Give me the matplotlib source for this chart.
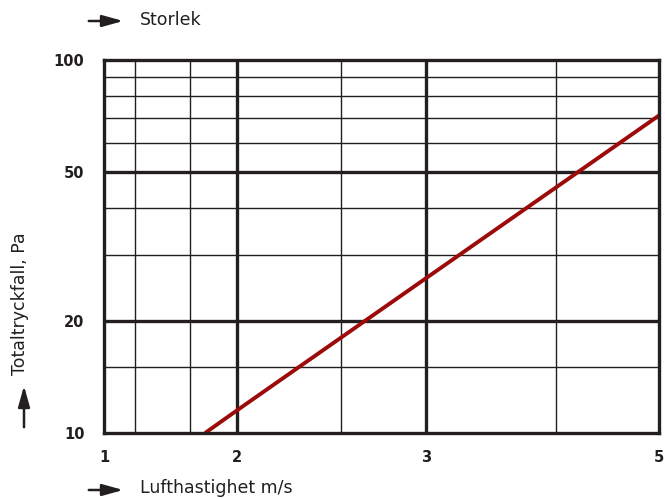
import numpy as np
import matplotlib
matplotlib.use("Agg")
import matplotlib.pyplot as plt

# x-axeln är ett nomogram: 1, 2, 3, 5 på ojämna avstånd
X_TICKS = [1, 2, 3, 5]
X_POS = [0, 133, 322, 555]          # relativa positioner längs axeln
X_MINOR = [1.23, 1.65, 2.55, 4.12]
Y_TICKS = [10, 20, 50, 100]
Y_MINOR = [15, 30, 40, 60, 70, 80, 90]

# tryckfallskurva
vel = [1.76, 2, 3, 5]
tryck = [10, 11.5, 26, 71]

INK = "#231f20"
RED = "#9c0a0a"


def fwd(x):
    return np.interp(x, X_TICKS, X_POS)


def inv(p):
    return np.interp(p, X_POS, X_TICKS)


fig = plt.figure(figsize=(6.65, 4.99), dpi=100)
ax = fig.add_axes([104 / 665, 1 - 433 / 499, 555 / 665, 373 / 499])
ax.set_xscale("function", functions=(fwd, inv))
ax.set_yscale("log")
ax.set_xlim(1, 5)
ax.set_ylim(10, 100)

for x in X_MINOR:
    ax.axvline(x, color=INK, lw=1.0, zorder=1)
for y in Y_MINOR:
    ax.axhline(y, color=INK, lw=1.0, zorder=1)
for x in X_TICKS[1:-1]:
    ax.axvline(x, color=INK, lw=2.4, zorder=1)
for y in Y_TICKS[1:-1]:
    ax.axhline(y, color=INK, lw=2.4, zorder=1)

ax.plot(vel, tryck, color=RED, lw=2.8, zorder=3, solid_capstyle="butt")

for s in ax.spines.values():
    s.set_linewidth(2.4)
    s.set_color(INK)
    s.set_zorder(4)

ax.set_xticks(X_TICKS)
ax.set_xticklabels([str(v) for v in X_TICKS])
ax.set_yticks(Y_TICKS)
ax.set_yticklabels([str(v) for v in Y_TICKS])
ax.minorticks_off()
ax.set_xticks([], minor=True)
ax.set_yticks([], minor=True)
ax.tick_params(length=0, labelsize=10.5, colors=INK)
ax.tick_params(axis="x", pad=12)
ax.tick_params(axis="y", pad=14)
for t in ax.get_xticklabels() + ax.get_yticklabels():
    t.set_fontweight("heavy")

# pilar och axeltexter
arrow = dict(arrowstyle="-|>,head_length=0.9,head_width=0.25", color=INK,
             lw=1.8, mutation_scale=14)
fig.add_artist(matplotlib.patches.FancyArrowPatch(
    (86 / 665, 1 - 21 / 499), (126 / 665, 1 - 21 / 499),
    transform=fig.transFigure, **arrow))
fig.text(140 / 665, 1 - 20 / 499, "Storlek", fontsize=12.5, color=INK,
         va="center", ha="left")
fig.add_artist(matplotlib.patches.FancyArrowPatch(
    (86 / 665, 1 - 490 / 499), (126 / 665, 1 - 490 / 499),
    transform=fig.transFigure, **arrow))
fig.text(140 / 665, 1 - 488 / 499, "Lufthastighet m/s", fontsize=12.5,
         color=INK, va="center", ha="left")
fig.add_artist(matplotlib.patches.FancyArrowPatch(
    (24 / 665, 1 - 430 / 499), (24 / 665, 1 - 383 / 499),
    transform=fig.transFigure, **arrow))
fig.text(20 / 665, 1 - 304 / 499, "Totaltryckfall, Pa", fontsize=12.5,
         color=INK, va="center", ha="center", rotation=90)

fig.savefig("out.png", dpi=100)
